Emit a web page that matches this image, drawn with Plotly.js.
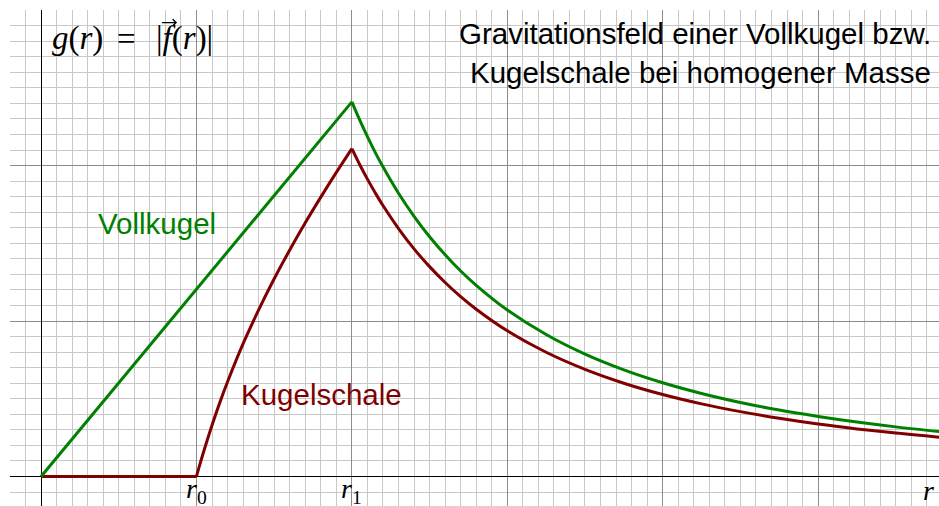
<!DOCTYPE html>
<html>
<head>
<meta charset="utf-8">
<script src="https://cdn.plot.ly/plotly-3.0.1.min.js"></script>
<style>html,body{margin:0;padding:0;background:#fff;}#chart{width:939px;height:506px;}</style>
</head>
<body>
<div id="chart"></div>
<script>
// Vollkugel (solid sphere) field magnitude (units: grid majors)
const vollR = [0, 2, 2.05, 2.1, 2.15, 2.2, 2.3, 2.4, 2.5, 2.6, 2.7, 2.8, 3.0, 3.25, 3.5, 3.75, 4.0, 4.25, 4.5, 4.75, 5.0, 5.25, 5.5, 5.8];
const vollG = [0, 2.41, 2.294, 2.186, 2.085, 1.992, 1.822, 1.674, 1.542, 1.426, 1.322, 1.230, 1.071, 0.913, 0.787, 0.686, 0.603, 0.534, 0.476, 0.427, 0.386, 0.350, 0.319, 0.287];
// Kugelschale (spherical shell)
const schaleR = [0, 1, 1.02, 1.05, 1.1, 1.15, 1.2, 1.3, 1.4, 1.5, 1.6, 1.7, 1.8, 1.9, 2.0, 2.05, 2.1, 2.15, 2.2, 2.3, 2.4, 2.5, 2.6, 2.7, 2.8, 3.0, 3.25, 3.5, 3.75, 4.0, 4.25, 4.5, 4.75, 5.0, 5.25, 5.5, 5.8];
const schaleG = [0, 0, 0.071, 0.172, 0.330, 0.475, 0.609, 0.854, 1.072, 1.272, 1.457, 1.632, 1.797, 1.956, 2.109, 2.007, 1.913, 1.825, 1.743, 1.595, 1.464, 1.350, 1.248, 1.157, 1.076, 0.937, 0.799, 0.689, 0.600, 0.527, 0.467, 0.417, 0.374, 0.337, 0.306, 0.279, 0.251];
// axis tick labels
const tickPos = [1, 2, 5.71];
const tickLabels = ['<i>r</i><sub>0</sub>', '<i>r</i><sub>1</sub>', '<i>r</i>'];
const titleLines = ['Gravitationsfeld einer Vollkugel bzw.', 'Kugelschale bei homogener Masse'];
const seriesNames = ['Vollkugel', 'Kugelschale'];
const yLabelParts = ['<i>g</i>(<i>r</i>)', '=', '|<i>f</i>(<i>r</i>)|'];
const yLabelPos = [0.232, 0.547, 0.92];
const GREEN = '#008000', RED = '#800000';
const R0 = 1, R1 = 2;

// cut a series into pieces at given r values (pieces share the cut points)
function pieces(xs, ys, cuts) {
  const out = []; let start = 0;
  cuts.forEach(c => { const k = xs.indexOf(c); out.push([xs.slice(start, k + 1), ys.slice(start, k + 1)]); start = k; });
  out.push([xs.slice(start), ys.slice(start)]);
  return out;
}
const vP = pieces(vollR, vollG, [R1]);
const sP = pieces(schaleR, schaleG, [R0, R1]);
const mk = (p, c, shape, name) => ({x: p[0], y: p[1], mode: 'lines', name: name, hoverinfo: 'skip',
  line: {color: c, width: 3, shape: shape, smoothing: 1}});
const traces = [
  mk(sP[0], RED, 'linear', seriesNames[1]),
  mk(sP[1], RED, 'spline', seriesNames[1]),
  mk(sP[2], RED, 'spline', seriesNames[1]),
  mk(vP[0], GREEN, 'linear', seriesNames[0]),
  mk(vP[1], GREEN, 'spline', seriesNames[0])
];

const serif = 'Liberation Serif, DejaVu Serif, serif';
const sans = 'Liberation Sans, Arial, sans-serif';
const annotations = [];
tickPos.forEach((p, i) => annotations.push({
  x: p, y: -0.09, xref: 'x', yref: 'y', text: tickLabels[i], showarrow: false,
  xanchor: 'center', yanchor: 'middle', font: {family: serif, size: 28, color: '#000'}
}));
yLabelParts.forEach((t, i) => annotations.push({
  x: yLabelPos[i], y: 2.815, xref: 'x', yref: 'y', text: t, showarrow: false,
  xanchor: 'center', yanchor: 'middle', font: {family: serif, size: 33, color: '#000'}
}));
// vector arrow over f
annotations.push({x: 0.875, y: 2.92, xref: 'x', yref: 'y', ax: -18, ay: 0, text: ' ',
  showarrow: true, arrowhead: 4, arrowsize: 1.0, arrowwidth: 1.3, arrowcolor: '#000'});
annotations.push({x: 5.74, y: 2.85, xref: 'x', yref: 'y', text: titleLines[0], showarrow: false,
  xanchor: 'right', yanchor: 'middle', font: {family: sans, size: 29.5, color: '#000'}});
annotations.push({x: 5.74, y: 2.6, xref: 'x', yref: 'y', text: titleLines[1], showarrow: false,
  xanchor: 'right', yanchor: 'middle', font: {family: sans, size: 29.5, color: '#000'}});
annotations.push({x: 0.743, y: 1.63, xref: 'x', yref: 'y', text: seriesNames[0], showarrow: false,
  xanchor: 'center', yanchor: 'middle', font: {family: sans, size: 29.5, color: GREEN}});
annotations.push({x: 1.802, y: 0.53, xref: 'x', yref: 'y', text: seriesNames[1], showarrow: false,
  xanchor: 'center', yanchor: 'middle', font: {family: sans, size: 29.5, color: RED}});
// axis arrow heads
annotations.push({x: 0, y: 2.99, xref: 'x', yref: 'y', ax: 0, ay: 8, text: ' ',
  showarrow: true, arrowhead: 4, arrowsize: 1.6, arrowwidth: 1, arrowcolor: '#000'});
annotations.push({x: 5.8, y: 0, xref: 'x', yref: 'y', ax: -8, ay: 0, text: ' ',
  showarrow: true, arrowhead: 4, arrowsize: 1.6, arrowwidth: 1, arrowcolor: '#000'});

const axisCommon = {
  showticklabels: false, ticks: '', showline: false,
  zeroline: true, zerolinecolor: '#000', zerolinewidth: 1,
  showgrid: true, gridcolor: '#8c8c8c', gridwidth: 1, dtick: 1, tick0: 0,
  minor: {showgrid: true, dtick: 0.1, tick0: 0, gridcolor: '#c8c8c8', gridwidth: 1}
};
const layout = {
  width: 939, height: 506,
  margin: {l: 10, r: 0, t: 10, b: 0, pad: 0},
  paper_bgcolor: '#fff', plot_bgcolor: '#fff',
  showlegend: false,
  xaxis: Object.assign({}, axisCommon, {range: [-0.2, 5.778]}),
  yaxis: Object.assign({}, axisCommon, {range: [-0.19, 3.001]}),
  annotations: annotations
};
Plotly.newPlot('chart', traces, layout, {displayModeBar: false, staticPlot: true});
</script>
</body>
</html>
